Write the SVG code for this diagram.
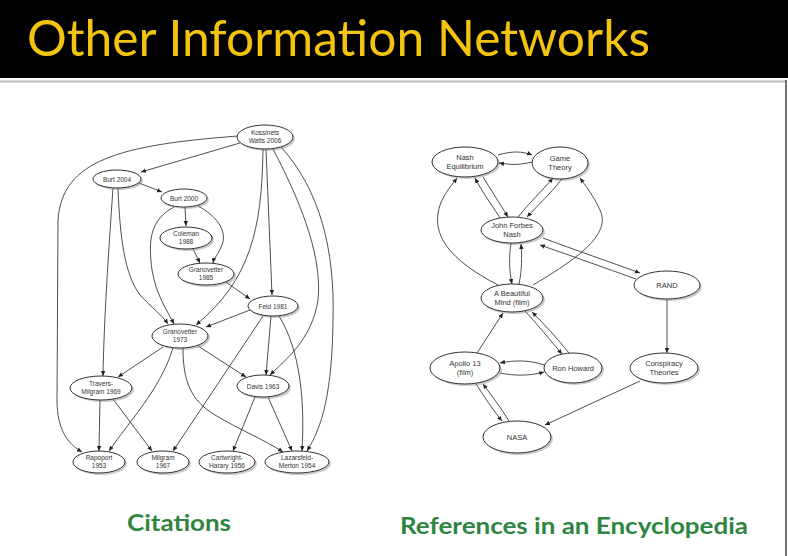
<svg xmlns="http://www.w3.org/2000/svg" width="788" height="556" viewBox="0 0 788 556">
<style>
.n ellipse.b{fill:#fff;stroke:#333;stroke-width:1}
.n ellipse.s{fill:#888;opacity:0.45}
.n text{font-family:"Liberation Sans",Arial,sans-serif;fill:#333;text-anchor:middle}
.c text{font-size:6.5px}
.r text{font-size:7.5px}
#edges path{fill:none;stroke:#222;stroke-width:0.8;marker-end:url(#ah)}
.title{font-family:Lato,"Open Sans",sans-serif;font-size:50px;fill:#f2c40f}
.lbl{font-family:Lato,"Open Sans",sans-serif;font-weight:bold;font-size:23px;fill:#2e8540}
</style>
<defs>
<marker id="ah" markerWidth="6" markerHeight="6" refX="5" refY="3" orient="auto" markerUnits="userSpaceOnUse">
<path d="M0,0.8 L5,3 L0,5.2 Z" fill="#222"/>
</marker>
</defs>
<rect x="0" y="0" width="788" height="556" fill="#fff"/>
<rect x="0" y="0" width="788" height="78" fill="#000"/>
<line x1="0" y1="81.5" x2="786" y2="81.5" stroke="#bbb" stroke-width="2"/>
<line x1="786" y1="80" x2="786" y2="556" stroke="#444" stroke-width="1.5"/>
<text class="title" x="27" y="56" textLength="623" lengthAdjust="spacingAndGlyphs">Other Information Networks</text>

<g id="edges">
<!-- citations -->
<path d="M240,143 L141,172"/>
<path d="M238,136 C120,145 62,160 58,220 L57,400 C57,430 68,444 82,452"/>
<path d="M263,149 C262,230 250,280 196,325"/>
<path d="M266,149 L272,295"/>
<path d="M273,149 C305,210 322,260 318,300 C312,340 285,360 270,375"/>
<path d="M281,147 C320,190 335,250 333,320 C332,400 320,430 307,451"/>
<path d="M139,183 L162,192"/>
<path d="M113,188 C108,260 104,320 103,376"/>
<path d="M118,188 C120,240 125,275 140,295 C152,308 162,315 168,324"/>
<path d="M185,207 L186,226"/>
<path d="M198,206 C215,215 228,230 222,245 C218,255 214,258 213,263"/>
<path d="M174,207 C150,220 148,240 152,270 C156,295 168,312 174,324"/>
<path d="M193,249 L200,263"/>
<path d="M226,282 L250,299"/>
<path d="M250,310 L206,327"/>
<path d="M263,316 L173,451"/>
<path d="M271,316 L266,375"/>
<path d="M279,316 C300,350 305,400 302,451"/>
<path d="M163,347 L118,377"/>
<path d="M173,348 C160,390 130,420 109,451"/>
<path d="M198,346 L246,377"/>
<path d="M183,348 C183,380 190,400 215,415 C240,430 265,440 283,452"/>
<path d="M100,400 L99,451"/>
<path d="M113,399 L152,451"/>
<path d="M255,397 L233,451"/>
<path d="M268,397 L292,451"/>
<!-- encyclopedia -->
<path d="M498,155 C512,151 522,151 532,155"/>
<path d="M532,162 C520,165 512,165 499,163"/>
<path d="M500,218 C492,205 482,192 475,178"/>
<path d="M483,177 C491,190 500,204 508,217"/>
<path d="M518,217 C528,204 542,191 553,178"/>
<path d="M562,179 C552,192 538,205 527,217"/>
<path d="M498,285 C450,260 430,235 440,205 C445,192 452,185 457,178"/>
<path d="M533,285 C575,260 612,235 600,210 C593,195 585,185 580,178"/>
<path d="M511,243 C509,257 509,270 512,284"/>
<path d="M519,284 C522,270 522,257 521,244"/>
<path d="M543,238 C575,250 610,262 640,273"/>
<path d="M636,279 C605,268 572,256 540,245"/>
<path d="M667,299 L667,353"/>
<path d="M477,353 L503,313"/>
<path d="M525,311 C538,325 550,340 562,354"/>
<path d="M569,353 C557,338 545,325 532,312"/>
<path d="M544,365 C530,360 515,360 500,363"/>
<path d="M500,373 C515,376 530,376 544,372"/>
<path d="M476,384 C484,396 492,409 502,421"/>
<path d="M509,421 C501,408 492,396 483,384"/>
<path d="M640,381 L545,425"/>
</g>

<g class="n c" id="kossinets">
<ellipse class="s" cx="267" cy="139" rx="28" ry="12"/><ellipse class="b" cx="265" cy="137" rx="28" ry="12"/>
<text x="265" y="135">Kossinets</text><text x="265" y="143">Watts 2006</text></g>
<g class="n c" id="burt2004">
<ellipse class="s" cx="119" cy="181" rx="24" ry="9"/><ellipse class="b" cx="117" cy="179" rx="24" ry="9"/>
<text x="117" y="181.5">Burt 2004</text></g>
<g class="n c" id="burt2000">
<ellipse class="s" cx="186" cy="200" rx="23" ry="9"/><ellipse class="b" cx="184" cy="198" rx="23" ry="9"/>
<text x="184" y="200.5">Burt 2000</text></g>
<g class="n c" id="coleman">
<ellipse class="s" cx="188" cy="240" rx="26" ry="11"/><ellipse class="b" cx="186" cy="238" rx="26" ry="11"/>
<text x="186" y="236">Coleman</text><text x="186" y="244">1988</text></g>
<g class="n c" id="granovetter1985">
<ellipse class="s" cx="208" cy="276" rx="28" ry="11"/><ellipse class="b" cx="206" cy="274" rx="28" ry="11"/>
<text x="206" y="272">Granovetter</text><text x="206" y="280">1985</text></g>
<g class="n c" id="feld">
<ellipse class="s" cx="275" cy="308" rx="25" ry="10"/><ellipse class="b" cx="273" cy="306" rx="25" ry="10"/>
<text x="273" y="308.5">Feld 1981</text></g>
<g class="n c" id="granovetter1973">
<ellipse class="s" cx="182" cy="338" rx="28" ry="12"/><ellipse class="b" cx="180" cy="336" rx="28" ry="12"/>
<text x="180" y="334">Granovetter</text><text x="180" y="342">1973</text></g>
<g class="n c" id="travers">
<ellipse class="s" cx="103" cy="390" rx="31" ry="12"/><ellipse class="b" cx="101" cy="388" rx="31" ry="12"/>
<text x="101" y="386">Travers-</text><text x="101" y="394">Milgram 1969</text></g>
<g class="n c" id="davis">
<ellipse class="s" cx="265" cy="388" rx="26" ry="11"/><ellipse class="b" cx="263" cy="386" rx="26" ry="11"/>
<text x="263" y="388.5">Davis 1963</text></g>
<g class="n c" id="rapoport">
<ellipse class="s" cx="101" cy="464" rx="26" ry="11"/><ellipse class="b" cx="99" cy="462" rx="26" ry="11"/>
<text x="99" y="460">Rapoport</text><text x="99" y="468">1953</text></g>
<g class="n c" id="milgram">
<ellipse class="s" cx="165" cy="464" rx="26" ry="11"/><ellipse class="b" cx="163" cy="462" rx="26" ry="11"/>
<text x="163" y="460">Milgram</text><text x="163" y="468">1967</text></g>
<g class="n c" id="cartwright">
<ellipse class="s" cx="229" cy="464" rx="28" ry="11"/><ellipse class="b" cx="227" cy="462" rx="28" ry="11"/>
<text x="227" y="460">Cartwright-</text><text x="227" y="468">Harary 1956</text></g>
<g class="n c" id="lazarsfeld">
<ellipse class="s" cx="299" cy="464" rx="32" ry="11"/><ellipse class="b" cx="297" cy="462" rx="32" ry="11"/>
<text x="297" y="460">Lazarsfeld-</text><text x="297" y="468">Merton 1954</text></g>

<g class="n r" id="nasheq">
<ellipse class="s" cx="467" cy="164" rx="33" ry="15"/><ellipse class="b" cx="465" cy="162" rx="33" ry="15"/>
<text x="465" y="160">Nash</text><text x="465" y="169">Equilibrium</text></g>
<g class="n r" id="gametheory">
<ellipse class="s" cx="562" cy="165" rx="28" ry="16"/><ellipse class="b" cx="560" cy="163" rx="28" ry="16"/>
<text x="560" y="161">Game</text><text x="560" y="170">Theory</text></g>
<g class="n r" id="jfn">
<ellipse class="s" cx="514" cy="232" rx="31" ry="13"/><ellipse class="b" cx="512" cy="230" rx="31" ry="13"/>
<text x="512" y="228">John Forbes</text><text x="512" y="237">Nash</text></g>
<g class="n r" id="rand">
<ellipse class="s" cx="669" cy="287" rx="33" ry="14"/><ellipse class="b" cx="667" cy="285" rx="33" ry="14"/>
<text x="667" y="288">RAND</text></g>
<g class="n r" id="abm">
<ellipse class="s" cx="514" cy="300" rx="31" ry="14"/><ellipse class="b" cx="512" cy="298" rx="31" ry="14"/>
<text x="512" y="296">A Beautiful</text><text x="512" y="305">Mind (film)</text></g>
<g class="n r" id="apollo">
<ellipse class="s" cx="467" cy="370" rx="35" ry="16"/><ellipse class="b" cx="465" cy="368" rx="35" ry="16"/>
<text x="465" y="366">Apollo 13</text><text x="465" y="375">(film)</text></g>
<g class="n r" id="ronhoward">
<ellipse class="s" cx="575" cy="370" rx="29" ry="15"/><ellipse class="b" cx="573" cy="368" rx="29" ry="15"/>
<text x="573" y="371">Ron Howard</text></g>
<g class="n r" id="conspiracy">
<ellipse class="s" cx="666" cy="370" rx="34" ry="15"/><ellipse class="b" cx="664" cy="368" rx="34" ry="15"/>
<text x="664" y="366">Conspiracy</text><text x="664" y="375">Theories</text></g>
<g class="n r" id="nasa">
<ellipse class="s" cx="519" cy="439" rx="34" ry="16"/><ellipse class="b" cx="517" cy="437" rx="34" ry="16"/>
<text x="517" y="440">NASA</text></g>

<text class="lbl" x="127" y="531" textLength="104" lengthAdjust="spacingAndGlyphs">Citations</text>
<text class="lbl" x="400" y="534" textLength="348" lengthAdjust="spacingAndGlyphs">References in an Encyclopedia</text>
</svg>
